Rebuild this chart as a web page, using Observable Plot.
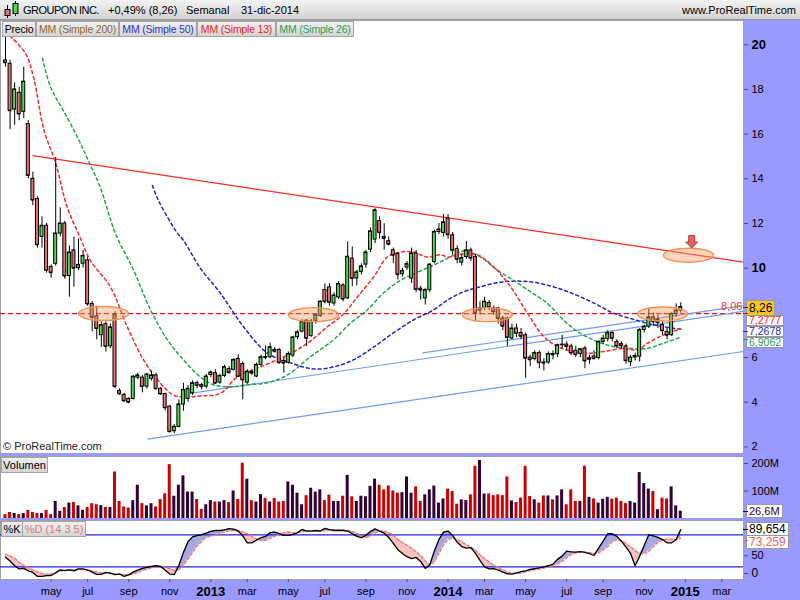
<!DOCTYPE html>
<html><head><meta charset="utf-8">
<script src="https://cdn.jsdelivr.net/npm/d3@7"></script>
<script src="https://cdn.jsdelivr.net/npm/@observablehq/plot@0.6"></script>
<style>
body{margin:0;}
#wrap{position:relative;width:800px;height:600px;background:#9999ff;overflow:hidden;font-family:"Liberation Sans",Arial,sans-serif;}
#wrap svg{position:absolute;left:0;}
#header{position:absolute;left:0;top:0;width:800px;height:20px;background:linear-gradient(#f3f3f3,#d3d3d3);border-bottom:1px solid #9a9a9a;box-sizing:border-box;}
.ht{position:absolute;top:3px;font-size:11px;line-height:14px;color:#000;white-space:nowrap;}
.btn{position:absolute;height:16px;line-height:14px;font-size:10.5px;text-align:center;background:linear-gradient(#f0f0f0,#d4d4d4);border:1px solid #a4a4a4;box-sizing:border-box;white-space:nowrap;overflow:hidden;}
.lab{position:absolute;height:14px;line-height:12px;font-size:11px;padding:0 2px;background:#fff;border:1px solid #9a9a9a;box-sizing:border-box;white-space:nowrap;}
.lab.s{height:11px;line-height:9px;font-size:10.5px;overflow:visible;}
.mk{position:absolute;left:743px;width:5px;height:1px;}
</style></head>
<body><div id="wrap"></div>
<script>
// ---------- DATA (weekly candles, week 0 = 27-feb-2012) ----------
const opens  = [19.3,19.15,17.1,17.85,17.0,16.45,14.0,13.1,11.4,11.9, 10.05,10.2,11.55,12.0,9.65,10.8,10.0,10.2,10.35,8.4, 7.85,7.0,7.5,6.5,7.9,4.5,4.33,4.15,4.15,5.1, 5.1,4.7,5.05,5.2,4.6,4.37,3.8,2.7,2.9,3.9, 4.15,4.4,4.85,4.77,4.7,5.22,5.3,4.88,5.18,5.48, 5.45,5.94,5.71,4.88,5.35,5.15,5.67,6.02,6.01,6.34, 6.34,5.85,5.77,6.09,6.91,7.16,7.65,6.97,7.65,7.86, 9.02,9.14,8.42,8.69,9.23,8.65,10.43,9.54,9.84,10.16, 10.83,11.28,12.11,11.4,11.21,10.8,10.63,9.73,10.03,9.54, 10.66,9.08,8.65,9.02,10.28,11.62,11.58,12.22,11.47,10.85, 10.25,10.5,10.8,10.5,8.1,8.22,8.45,8.2,8.2,7.75, 7.75,6.85,7.3,7.1,7.0,6.0,5.93,6.2,5.78,5.78, 6.16,6.15,6.55,6.58,6.5,6.3,6.16,6.4,5.9,6.05, 5.98,6.7,6.84,7.1,6.7,6.6,6.5,5.79,6.0,6.04, 7.23,7.38,7.8,7.55,7.45,7.15,7.0,7.95,8.1];
const highs  = [20.5,19.3,18.3,18.1,19.0,16.6,14.3,13.2,12.3,12.0, 10.15,14.95,12.7,12.1,11.0,11.4,11.3,10.8,10.5,8.5, 8.3,7.6,7.6,7.5,8.05,4.6,4.4,4.2,5.2,5.3, 5.2,5.3,5.4,5.3,4.65,4.4,3.85,3.0,4.1,4.85, 4.75,4.95,4.95,4.85,5.25,5.4,5.45,5.25,5.65,5.6, 5.95,6.12,5.8,5.45,5.45,5.75,6.1,6.52,6.64,6.45, 6.4,6.0,6.25,6.95,7.2,7.7,7.7,7.7,7.95,8.55, 9.3,9.3,8.9,9.4,9.3,11.18,10.95,9.9,10.2,10.8, 11.8,12.66,12.3,11.99,11.4,10.9,10.7,10.0,10.3,10.9, 10.8,9.2,9.1,10.2,11.7,12.0,12.4,12.4,11.6,11.0, 10.6,11.2,10.9,10.6,8.5,8.7,8.55,8.3,8.25,7.85, 7.8,7.5,7.5,7.3,7.1,6.1,6.3,6.3,5.95,6.25, 6.3,6.6,7.0,6.7,6.6,6.5,6.4,6.5,6.1,6.3, 6.75,7.0,7.2,7.15,6.8,6.7,6.6,6.1,6.2,7.3, 7.45,8.2,8.0,7.9,7.6,7.3,8.0,8.4,8.45];
const lows   = [19.0,16.2,16.4,16.6,16.7,14.0,12.8,10.9,10.9,9.78, 9.55,10.1,11.4,9.5,8.7,9.15,9.9,10.0,8.3,7.15, 6.8,6.45,6.25,6.4,4.6,4.3,4.0,3.93,4.1,5.0, 4.42,4.6,4.95,4.55,4.3,3.6,2.63,2.6,2.85,3.6, 4.0,4.3,4.6,4.55,4.6,5.1,4.8,4.8,5.1,5.25, 5.4,5.1,4.11,4.8,5.2,5.1,5.6,5.9,5.95,6.2, 5.7,5.3,5.7,6.0,6.8,7.1,6.49,6.9,7.5,7.8, 8.4,8.3,8.3,8.6,8.5,8.6,9.17,9.2,9.7,10.0, 10.7,11.1,11.3,10.8,11.0,10.2,9.47,9.6,9.9,9.32, 8.9,8.57,8.35,8.9,10.2,11.5,11.4,11.3,10.6,10.2, 10.1,10.4,10.3,7.6,7.9,8.1,8.1,7.9,7.5,7.2, 6.5,6.8,6.9,6.8,5.07,5.6,5.85,5.5,5.4,5.7, 5.9,6.0,6.4,6.3,6.1,6.0,6.0,5.5,5.7,5.9, 5.9,6.6,6.7,6.7,6.4,6.4,5.7,5.6,5.85,5.8, 7.1,7.3,7.4,7.3,7.0,6.8,6.95,7.8,8.0];
const closes = [19.2,17.05,18.0,16.9,18.35,14.15,13.05,11.05,11.9,9.9, 9.8,11.55,12.0,9.65,10.7,10.0,10.15,10.55,8.4,7.8, 7.3,7.45,6.5,7.35,4.7,4.38,4.06,4.0,5.14,5.2, 4.7,5.24,5.2,4.6,4.37,3.75,2.68,2.9,3.9,4.55, 4.6,4.85,4.75,4.7,5.15,5.33,4.85,5.18,5.57,5.33, 5.89,5.15,5.0,5.37,5.3,5.67,6.01,6.0,6.46,6.28, 5.77,5.75,6.16,6.9,7.13,7.61,6.86,7.61,7.9,8.5, 8.5,8.47,8.78,9.29,8.62,10.51,9.54,9.81,10.08,10.7, 11.65,12.59,11.59,11.33,11.07,10.58,9.72,9.88,10.18,10.66, 9.05,9.02,9.02,10.16,11.62,11.73,12.05,11.5,10.8,10.4, 10.45,10.8,10.45,8.0,8.2,8.5,8.25,8.05,7.75,7.4, 6.9,7.3,7.08,6.95,5.97,5.9,6.2,5.77,5.75,6.16, 6.12,6.55,6.58,6.5,6.2,6.13,6.37,5.85,5.97,5.95, 6.7,6.85,7.1,6.86,6.52,6.53,5.86,6.0,6.07,7.23, 7.38,7.8,7.6,7.7,7.2,7.0,7.95,8.1,8.26];
// volume in millions
const volumes = [14,22,18,14,18,29,22,18,18,29, 14,62,26,40,56,58,46,30,40,54, 50,47,40,40,169,62,42,38,65,121, 54,46,54,42,69,90,196,81,121,155, 96,96,69,33,50,65,60,60,65,58, 100,69,201,143,65,60,87,73,60,73, 60,62,133,121,92,50,83,110,96,104, 65,85,62,62,81,157,79,62,81,79, 117,143,121,104,118,100,92,94,151,92, 115,62,86,104,118,56,71,107,98,52, 68,65,86,190,211,89,89,83,86,83, 151,64,58,74,190,80,68,56,82,82, 68,82,104,50,104,62,62,190,77,71, 56,70,77,70,74,62,54,62,56,167, 127,107,98,32,74,71,115,46,26.6];
// stochastic %K and %D (14 3 5)
const stochK = [38,31,22,16,17,12.5,9.5,2,2,3.5, 3.7,9,14.4,13,14.4,12.5,16,16,14,10, 6,6,9.5,8,5.5,6.5,2,5,10,14, 17,19,21,22,20.6,13.5,6.5,5.6,22.5,47, 67,76,78.5,80.5,83,86.5,88,88,89,91.5, 90.5,87,78,65,65,70,74.5,77,84,85, 82,79,78.8,80.6,84,90,86.9,87,88,87, 92,89.5,88,88,88,87,82,77,74.5,79, 86,91,87,83,75,64,52,45,39,35.5, 37.5,30,17,24,49,71,85,87,78.5,66, 58,55,56,45,32,20,16,16.5,14,10, 7,6.5,8.5,11,12.5,15,16.5,18,20,22, 25,34,40,49.5,48,47.5,48.3,47,44.5,41.2, 55,68,81.9,82,77,68,57,45,22,40, 60,80,78,75,71,65,65,71,89.65];
const stochD = [44,40,36,28,22.5,18.5,14,10.5,7.5,5.8, 6.5,8.5,12,13.5,14.4,14.4,14.8,14.8,14.4,12.5, 10.5,8.6,8.1,7.5,6.7,5.8,5.3,5.5,6.8,9, 12.5,15.5,18,19.8,20.6,19,16.5,13,15,23, 34.5,47,59,67.5,75,77.5,80,82.5,85.5,87.5, 88,88,85,82,77,72,69.4,69.4,73,77, 82,84,85,83.5,84,85.5,87.5,87.5,87,87, 87.5,88.5,89.4,89.4,89,88,86,83,78.5,75, 78,83.5,87,86.5,84,79.5,71,66,60.5,55, 48.5,41.2,31,23.5,29,44.5,61,71.5,73.5,71, 67,61.2,57,51,42.5,35.5,29,23,18.5,14, 10,7.8,7.4,8.2,11,13,14.6,15.8,17.6,19.6, 22,25.5,30,37,42.5,46,47.4,47.5,46.5,44.4, 46.5,51.5,58,67,70.6,69.3,64,57,50.5,44, 44.5,49,58,66,70,72,71.5,71,73.26];
// moving averages: [week, value]
const ma13 = [[1,20.4],[4.4,19.6],[6.2,18.5],[8.4,16.2],[11,14.7],[13.5,12.75],[16.4,11.35],[18.6,10.35],[23,9.16],[26.7,7.37],[30.3,5.88],[34,4.84],[36.9,4.31],[39.8,4.24],[42.7,4.28],[47.1,4.4],[50.8,5.13],[55.9,5.58],[61.7,6.1],[66.1,6.63],[70.5,7.37],[74.2,7.97],[77.1,8.71],[80.7,9.61],[83.7,10.5],[86.6,10.72],[89.5,10.72],[92.4,10.5],[95.3,10.6],[97.1,10.5],[100.6,10.65],[103.6,10.58],[107,10.06],[110.7,9.17],[114.4,7.98],[118,6.93],[121,6.49],[124.5,6.27],[127.6,6.19],[131.1,6.27],[135.5,6.41],[138.5,6.34],[140.7,6.64],[144.2,7.01],[148,7.28]];
const ma26 = [[8.1,19.4],[9.9,18.1],[12.7,17.05],[15.8,15.85],[18.2,14.8],[20.8,13.6],[24.1,11.55],[28.1,9.9],[31.8,8.13],[35.5,6.79],[39,5.9],[42.7,5.13],[45.6,4.78],[49.3,4.69],[53,4.78],[57.4,4.87],[61.8,5.22],[66.8,6.03],[71.9,6.79],[75.6,7.54],[79.3,8.13],[82.8,8.88],[86.6,9.46],[90.3,9.82],[93.8,10.13],[96.9,10.45],[100.4,10.77],[104.1,10.5],[107.8,9.91],[111.3,9.46],[115.1,8.94],[118.8,8.42],[122.3,7.68],[126,7.08],[129.8,6.71],[133.3,6.49],[137,6.41],[140.7,6.41],[144.2,6.64],[148,6.91]];
const ma50 = [[32.2,13.7],[33.5,13.04],[37.7,11.56],[39,11.25],[42.7,10.0],[47.1,8.88],[52.2,7.37],[57.4,6.2],[62.5,5.76],[67.5,5.49],[71.9,5.58],[76.3,5.9],[80.7,6.47],[85,7.1],[89.4,7.68],[93.8,8.13],[97.1,8.6],[100.4,8.94],[104.1,9.17],[107.8,9.35],[111.3,9.42],[115.1,9.39],[118.8,9.24],[122.3,9.02],[126,8.72],[129.8,8.35],[133.3,7.98],[137,7.75],[140.7,7.53],[144.2,7.38],[148,7.27]];
// drawn annotations: trend lines [week1, price1, week2, price2]
const redLines  = [[5.92,15.04,161.75,10.27]];
const blueLines = [[31.1,2.35,161.75,6.27],[39.45,4.36,161.75,8.07],[91.4,6.21,161.75,8.32]];
const supportLevel = [7.97];
const lineLabel = ["8,06"];
const ellipseWeeks = [21.5,67.5,105.6,144.0,149.7];
const ellipsePrices = [7.97,7.92,7.92,7.95,10.58];
const arrowWeeks = [150.4];
const arrowPrices = [11.17];
const priceTicks = [2,4,6,12,14,16,18];
const priceTicksBold = [10,20];
const volTicks = [100,200];
const stochTicks = [50];
const stochZero = [0];
const stochLevels = [20,80];
const monthTicks = [[2012,4],[2012,6],[2012,8],[2012,10],[2013,2],[2013,4],[2013,6],[2013,8],[2013,10],[2014,2],[2014,4],[2014,6],[2014,8],[2014,10],[2015,2]];
const yearTicks = [2013,2014,2015];
const monthNames = ["ene","feb","mar","abr","may","jun","jul","ago","sep","oct","nov","dic"];
const lastValues = {close:8.26, ma13:7.2777, ma50:7.2678, ma26:6.9062, vol:26.6, k:89.654, d:73.259};

// ---------- BUILD ----------
const FONT = '"Liberation Sans", Arial, sans-serif';
const DAY = 864e5, START = Date.UTC(2012,1,27);
const wk = i => new Date(START + i*7*DAY);
const half = 2.3*DAY;
const xDomain = [wk(-5/4.5625), wk((743-5)/4.5625)];
const candles = opens.map((o,i)=>({date:wk(i),open:o,high:highs[i],low:lows[i],close:closes[i],vol:volumes[i],k:stochK[i],d:stochD[i]}));
const UP="#4fd84f", DOWN="#e87272";
const wrap = document.getElementById("wrap");

const ellipseSym = {draw(ctx){const rx=25,ry=7,k=0.5523;ctx.moveTo(rx,0);ctx.bezierCurveTo(rx,ry*k,rx*k,ry,0,ry);ctx.bezierCurveTo(-rx*k,ry,-rx,ry*k,-rx,0);ctx.bezierCurveTo(-rx,-ry*k,-rx*k,-ry,0,-ry);ctx.bezierCurveTo(rx*k,-ry,rx,-ry*k,rx,0);ctx.closePath();}};
const arrowSym = {draw(ctx){ctx.moveTo(-3,-6.5);ctx.lineTo(3,-6.5);ctx.lineTo(3,0);ctx.lineTo(6,0);ctx.lineTo(0,6);ctx.lineTo(-6,0);ctx.lineTo(-3,0);ctx.closePath();}};
const maLine = (arr,color)=>Plot.line(arr,{x:d=>wk(d[0]),y:d=>d[1],stroke:color,strokeWidth:1.5,strokeDasharray:"3,3",curve:"catmull-rom"});
const trend = (arr,color,w)=>Plot.link(arr,{x1:d=>wk(d[0]),y1:d=>d[1],x2:d=>wk(d[2]),y2:d=>d[3],stroke:color,strokeWidth:w});

const pricePlot = Plot.plot({
  width:800,height:433,marginTop:0,marginBottom:0,marginLeft:0,marginRight:57,
  style:{background:"transparent",fontFamily:FONT,color:"#000",overflow:"hidden"},
  x:{type:"utc",domain:xDomain,axis:null},
  y:{domain:[2,20],range:[426.4,24.3]},
  marks:[
    Plot.frame({fill:"white",stroke:"#a0a0a0"}),
    Plot.ruleY(supportLevel,{stroke:"#ee1111",strokeDasharray:"5,3",strokeWidth:1.3}),
    trend(blueLines,"#6e9cf6",1.2),
    trend(redLines,"#ff2b2b",1.3),
    maLine(ma50,"#2525cc"),
    maLine(ma26,"#1fa84f"),
    maLine(ma13,"#ff2a2a"),
    Plot.ruleX(candles,{x:"date",y1:"low",y2:"high",stroke:"#000",strokeWidth:1}),
    Plot.rect(candles,{x1:d=>new Date(+d.date-half),x2:d=>new Date(+d.date+half),y1:"open",y2:"close",fill:d=>d.close>=d.open?UP:DOWN,stroke:"#000",strokeWidth:1}),
    Plot.ruleY(candles,{x1:d=>new Date(+d.date-half),x2:d=>new Date(+d.date+half),y:"close",stroke:"#000",strokeWidth:1}),
    Plot.dot(ellipseWeeks.map((w,i)=>({w,p:ellipsePrices[i]})),{x:d=>wk(d.w),y:"p",symbol:ellipseSym,r:5,fill:"#f79a62",fillOpacity:0.42,stroke:"#f39058",strokeWidth:1.4}),
    Plot.dot(arrowWeeks.map((w,i)=>({w,p:arrowPrices[i]})),{x:d=>wk(d.w),y:"p",symbol:arrowSym,r:5,fill:"#e46262",stroke:"#b53b3b",strokeWidth:1}),
    Plot.text(lineLabel,{x:()=>wk(blueLines[1][2]),y:()=>blueLines[1][3]+0.22,text:d=>d,textAnchor:"end",fill:"#ff3030",fontSize:11,dx:-1}),
    Plot.axisY({anchor:"right",ticks:priceTicks,tickSize:4,tickPadding:4,fontSize:11,stroke:"#555",label:null}),
    Plot.axisY({anchor:"right",ticks:priceTicksBold,tickSize:4,tickPadding:4,fontSize:13,fontWeight:"bold",stroke:"#555",label:null})
  ]
});
pricePlot.style.top="20px";
wrap.appendChild(pricePlot);

const volPlot = Plot.plot({
  width:800,height:62,marginTop:0,marginBottom:0,marginLeft:0,marginRight:57,
  style:{background:"transparent",fontFamily:FONT,color:"#000",overflow:"hidden"},
  x:{type:"utc",domain:xDomain,axis:null},
  y:{domain:[0,200],range:[62,7]},
  marks:[
    Plot.frame({fill:"white",stroke:"#a0a0a0"}),
    Plot.rect(candles,{x1:d=>new Date(+d.date-half),x2:d=>new Date(+d.date+half),y1:()=>0,y2:"vol",fill:d=>d.close<d.open?"#cc0000":"#330033"}),
    Plot.axisY({anchor:"right",ticks:volTicks,tickFormat:d=>d+"M",tickSize:4,tickPadding:4,fontSize:11,stroke:"#555",label:null})
  ]
});
volPlot.style.top="456px";
wrap.appendChild(volPlot);

const monthDates = monthTicks.map(([y,m])=>d3.utcMonday.ceil(new Date(Date.UTC(y,m,1))));
const yearDates = yearTicks.map(y=>d3.utcMonday.ceil(new Date(Date.UTC(y,0,1))));
const stochPlot = Plot.plot({
  width:800,height:80,marginTop:0,marginBottom:21,marginLeft:0,marginRight:57,
  style:{background:"transparent",fontFamily:FONT,color:"#000",overflow:"hidden"},
  x:{type:"utc",domain:xDomain},
  y:{domain:[0,100],range:[57,3.6]},
  marks:[
    Plot.frame({fill:"white",stroke:"#a0a0a0"}),
    Plot.areaY(candles,{x:"date",y1:"d",y2:d=>Math.max(d.k,d.d),fill:"#a7aae2"}),
    Plot.areaY(candles,{x:"date",y1:d=>Math.min(d.k,d.d),y2:"d",fill:"#f6c2c2"}),
    Plot.ruleY(stochLevels,{stroke:"#2020dd",strokeWidth:1.2}),
    Plot.line(candles,{x:"date",y:"d",stroke:"#ef7474",strokeWidth:1.3,strokeDasharray:"3,2"}),
    Plot.line(candles,{x:"date",y:"k",stroke:"#000",strokeWidth:1.3}),
    Plot.axisY({anchor:"right",ticks:stochTicks,tickSize:4,tickPadding:4,fontSize:11,stroke:"#555",label:null,dy:5}),
    Plot.axisY({anchor:"right",ticks:stochZero,tickSize:4,tickPadding:4,fontSize:12,stroke:"#555",label:null,dy:-4}),
    Plot.axisX({ticks:monthDates,tickFormat:d=>monthNames[d.getUTCMonth()],tickSize:3,tickPadding:5,fontSize:11,stroke:"#555",label:null}),
    Plot.axisX({ticks:yearDates,tickFormat:d=>String(d.getUTCFullYear()),tickSize:3,tickPadding:4,fontSize:13,fontWeight:"bold",stroke:"#555",label:null})
  ]
});
stochPlot.style.top="520px";
wrap.appendChild(stochPlot);

// ---------- HTML overlays ----------
function el(tag,cls,css,html){const e=document.createElement(tag);if(cls)e.className=cls;Object.assign(e.style,css);if(html!=null)e.innerHTML=html;wrap.appendChild(e);return e;}
const hdr = el("div",null,{},"");hdr.id="header";
hdr.innerHTML='<svg width="20" height="20" style="position:absolute;left:2px;top:0"><line x1="5.5" y1="5" x2="5.5" y2="18" stroke="#000"/><rect x="3" y="9.5" width="5" height="6" fill="#e87272" stroke="#000"/><line x1="13.5" y1="1" x2="13.5" y2="16" stroke="#000"/><rect x="11" y="3.5" width="5" height="10" fill="#4fd84f" stroke="#000"/></svg>';
[["GROUPON INC.",23,"-0.5px"],["+0,49% (8,26)",108,"0"],["Semanal",186,"0"],["31-dic-2014",241,"0"]].forEach(([t,x,ls])=>{const s=document.createElement("div");s.className="ht";s.style.left=x+"px";s.style.letterSpacing=ls;s.textContent=t;hdr.appendChild(s);});
const site=document.createElement("div");site.className="ht";site.style.right="4px";site.textContent="www.ProRealTime.com";hdr.appendChild(site);

[["Precio",2,34,"#000"],["MM (Simple 200)",36,83,"#8c6a2c"],["MM (Simple 50)",119,78,"#3333cc"],["MM (Simple 13)",197,79,"#ee2222"],["MM (Simple 26)",276,78,"#1f9f5a"]]
 .forEach(([t,x,w,c])=>el("div","btn",{left:x+"px",top:"21px",width:w+"px",color:c,letterSpacing:"-0.2px"},t));
el("div","btn",{left:"1px",top:"457px",width:"47px",color:"#000",fontSize:"11px"},"Volumen");
el("div","btn",{left:"1px",top:"521px",width:"22px",color:"#000",fontSize:"11px"},"%K");
el("div","btn",{left:"22px",top:"521px",width:"64px",color:"#e07a7a",fontSize:"11px"},"%D (14 3 5)");
el("div",null,{position:"absolute",left:"3px",top:"440px",fontSize:"11px",color:"#222"},"© ProRealTime.com");

const py = v=>20+pricePlot.scale("y").apply(v);
const vy = v=>456+volPlot.scale("y").apply(v);
const sy = v=>520+stochPlot.scale("y").apply(v);
const fmt = v=>String(v).replace(".",",");
function box(text,color,bg,center,fs){el("div","lab",{left:"746px",top:Math.round(center-7)+"px",color,background:bg,fontSize:(fs||11)+"px"},text);}
function sbox(text,color,top){el("div","lab s",{left:"746px",top:Math.round(top)+"px",color},text);}
function mark(y,color){el("div","mk",{top:Math.round(y)+"px",background:color});}
const yClose = py(lastValues.close);
const yBlue = py(lastValues.ma50)+2;
sbox(fmt(lastValues.ma13),"#ff2020",yBlue-16);
sbox(fmt(lastValues.ma50),"#2525cc",yBlue-5);
sbox(fmt(lastValues.ma26),"#1f9f5a",yBlue+6);
el("div","lab",{left:"746px",top:Math.round(yClose-7)+"px",height:"16px",lineHeight:"14px",fontSize:"12px",background:"#ffc61a",color:"#000"},fmt(lastValues.close));
mark(yClose,"#333");mark(py(supportLevel[0]),"#ee1111");mark(yBlue,"#2525cc");mark(yBlue+8,"#1f9f5a");
box(fmt(lastValues.vol)+"M","#330033","#fff",vy(lastValues.vol));mark(vy(lastValues.vol),"#330033");
const yk=sy(lastValues.k), yd=Math.max(sy(lastValues.d),yk+13);
box(fmt(lastValues.k),"#000","#fff",yk,12);
box(fmt(lastValues.d),"#e46a6a","#fff",yd,12);
mark(yk,"#000");mark(yd-2,"#e46a6a");
</script></body></html>
